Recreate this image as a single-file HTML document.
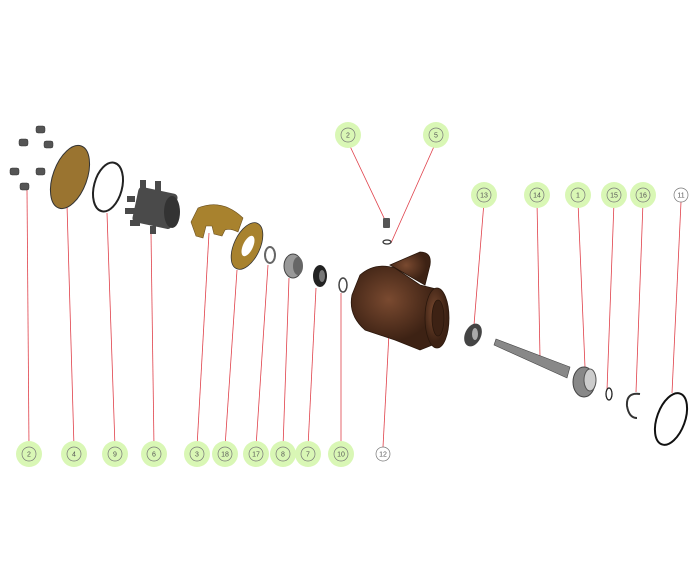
<!DOCTYPE html>
<html><head><style>body{margin:0;background:#fff}svg{display:block}text{font-family:"Liberation Sans",sans-serif;font-size:7px;fill:#555;text-anchor:middle}</style></head>
<body>
<svg width="700" height="587" viewBox="0 0 700 587" xmlns="http://www.w3.org/2000/svg">
<defs>
<radialGradient id="br" cx="40%" cy="40%"><stop offset="0" stop-color="#7a4a30"/><stop offset="1" stop-color="#3d2214"/></radialGradient>
</defs>
<g stroke="#e0404a" stroke-width="0.8" fill="none">
<line x1="29" y1="447" x2="27" y2="190"/>
<line x1="74" y1="447" x2="67" y2="205"/>
<line x1="115" y1="447" x2="107" y2="213"/>
<line x1="154" y1="447" x2="151" y2="233"/>
<line x1="197" y1="447" x2="209" y2="233"/>
<line x1="225" y1="447" x2="237" y2="270"/>
<line x1="256" y1="447" x2="268" y2="265"/>
<line x1="283" y1="447" x2="289" y2="278"/>
<line x1="308" y1="447" x2="316" y2="288"/>
<line x1="341" y1="447" x2="341" y2="293"/>
<line x1="383" y1="447" x2="389" y2="333"/>
<line x1="348" y1="142" x2="385" y2="220"/>
<line x1="436" y1="142" x2="391" y2="243"/>
<line x1="484" y1="202" x2="474" y2="325"/>
<line x1="537" y1="202" x2="540" y2="357"/>
<line x1="578" y1="202" x2="585" y2="367"/>
<line x1="614" y1="202" x2="607" y2="390"/>
<line x1="643" y1="202" x2="636" y2="392"/>
<line x1="681" y1="202" x2="672" y2="393"/>
</g>
<g fill="#555" stroke="#333" stroke-width="0.5">
<rect x="36" y="126" width="9" height="7" rx="2"/><rect x="19" y="139" width="9" height="7" rx="2"/><rect x="44" y="141" width="9" height="7" rx="2"/>
<rect x="10" y="168" width="9" height="7" rx="2"/><rect x="36" y="168" width="9" height="7" rx="2"/><rect x="20" y="183" width="9" height="7" rx="2"/>
</g>
<ellipse cx="70" cy="177" rx="17" ry="33" transform="rotate(20 70 177)" fill="#9a7430" stroke="#333" stroke-width="1"/>
<ellipse cx="108" cy="187" rx="14" ry="25" transform="rotate(15 108 187)" fill="none" stroke="#222" stroke-width="2"/>
<!-- impeller -->
<g fill="#4a4a4a">
<rect x="135" y="190" width="40" height="36" rx="4" transform="rotate(12 155 208)"/>
<rect x="127" y="196" width="8" height="6"/><rect x="125" y="208" width="10" height="6"/><rect x="130" y="220" width="10" height="6"/>
<rect x="140" y="180" width="6" height="10"/><rect x="155" y="181" width="6" height="10"/><rect x="150" y="226" width="6" height="8"/>
<ellipse cx="172" cy="212" rx="8" ry="16" fill="#333"/>
</g>
<!-- liner 3 -->
<path d="M191 222 L198 208 Q222 198 243 218 L238 232 Q230 228 225 230 L222 236 L214 234 L212 226 L206 226 L203 238 L196 236 Z" fill="#a8822e" stroke="#6b5020" stroke-width="0.6"/>
<ellipse cx="247" cy="246" rx="13" ry="25" transform="rotate(25 247 246)" fill="#a8822e" stroke="#333" stroke-width="0.8"/>
<ellipse cx="248" cy="246" rx="5" ry="11" transform="rotate(25 248 246)" fill="#fff"/>
<ellipse cx="270" cy="255" rx="5" ry="8" fill="none" stroke="#666" stroke-width="2"/>
<ellipse cx="293" cy="266" rx="9" ry="12" fill="#999" stroke="#444"/><ellipse cx="298" cy="266" rx="5" ry="9" fill="#666"/>
<ellipse cx="320" cy="276" rx="7" ry="11" fill="#222"/><ellipse cx="322" cy="276" rx="3" ry="6" fill="#777"/>
<ellipse cx="343" cy="285" rx="4" ry="7" fill="none" stroke="#444" stroke-width="1.5"/>
<rect x="383" y="218" width="7" height="10" rx="1" fill="#555"/>
<ellipse cx="387" cy="242" rx="4" ry="2" fill="none" stroke="#333" stroke-width="1.3"/>
<g fill="url(#br)" stroke="#2a170c" stroke-width="0.8">
<path d="M390 265 L420 252 Q432 252 430 265 L425 285 Z"/>
<path d="M360 275 Q375 262 395 268 L420 285 L440 290 L445 340 L420 350 L395 340 L365 330 Q348 315 352 295 Z"/>
<ellipse cx="437" cy="318" rx="12" ry="30"/>
<ellipse cx="438" cy="318" rx="6" ry="18" fill="#3d2214"/>
</g>
<ellipse cx="473" cy="335" rx="8" ry="12" transform="rotate(25 473 335)" fill="#444"/><ellipse cx="475" cy="334" rx="3" ry="6" fill="#aaa"/>
<path d="M494 345 L496 339 L570 367 L567 378 Z" fill="#888" stroke="#444" stroke-width="0.6"/>
<ellipse cx="584" cy="382" rx="11" ry="15" fill="#888" stroke="#444"/><ellipse cx="590" cy="380" rx="6" ry="11" fill="#ccc" stroke="#555"/>
<ellipse cx="609" cy="394" rx="3" ry="6" fill="none" stroke="#222" stroke-width="1.3"/>
<path d="M640 394 Q626 392 627 406 Q629 418 637 418" fill="none" stroke="#333" stroke-width="2"/>
<ellipse cx="671" cy="419" rx="14" ry="27" transform="rotate(20 671 419)" fill="none" stroke="#111" stroke-width="2"/>
<g>
<g fill="#d9f7b5"><circle cx="29" cy="454" r="13"/><circle cx="74" cy="454" r="13"/><circle cx="115" cy="454" r="13"/><circle cx="154" cy="454" r="13"/><circle cx="197" cy="454" r="13"/><circle cx="225" cy="454" r="13"/><circle cx="256" cy="454" r="13"/><circle cx="283" cy="454" r="13"/><circle cx="308" cy="454" r="13"/><circle cx="341" cy="454" r="13"/>
<circle cx="348" cy="135" r="13"/><circle cx="436" cy="135" r="13"/><circle cx="484" cy="195" r="13"/><circle cx="537" cy="195" r="13"/><circle cx="578" cy="195" r="13"/><circle cx="614" cy="195" r="13"/><circle cx="643" cy="195" r="13"/></g>
<g fill="none" stroke="#777" stroke-width="0.7"><circle cx="29" cy="454" r="7"/><circle cx="74" cy="454" r="7"/><circle cx="115" cy="454" r="7"/><circle cx="154" cy="454" r="7"/><circle cx="197" cy="454" r="7"/><circle cx="225" cy="454" r="7"/><circle cx="256" cy="454" r="7"/><circle cx="283" cy="454" r="7"/><circle cx="308" cy="454" r="7"/><circle cx="341" cy="454" r="7"/><circle cx="383" cy="454" r="7"/>
<circle cx="348" cy="135" r="7"/><circle cx="436" cy="135" r="7"/><circle cx="484" cy="195" r="7"/><circle cx="537" cy="195" r="7"/><circle cx="578" cy="195" r="7"/><circle cx="614" cy="195" r="7"/><circle cx="643" cy="195" r="7"/><circle cx="681" cy="195" r="7"/></g>
<text x="29" y="456.5">2</text><text x="74" y="456.5">4</text><text x="115" y="456.5">9</text><text x="154" y="456.5">6</text><text x="197" y="456.5">3</text><text x="225" y="456.5">18</text><text x="256" y="456.5">17</text><text x="283" y="456.5">8</text><text x="308" y="456.5">7</text><text x="341" y="456.5">10</text><text x="383" y="456.5">12</text>
<text x="348" y="137.5">2</text><text x="436" y="137.5">5</text><text x="484" y="197.5">13</text><text x="537" y="197.5">14</text><text x="578" y="197.5">1</text><text x="614" y="197.5">15</text><text x="643" y="197.5">16</text><text x="681" y="197.5">11</text>
</g>
</svg>
</body></html>
